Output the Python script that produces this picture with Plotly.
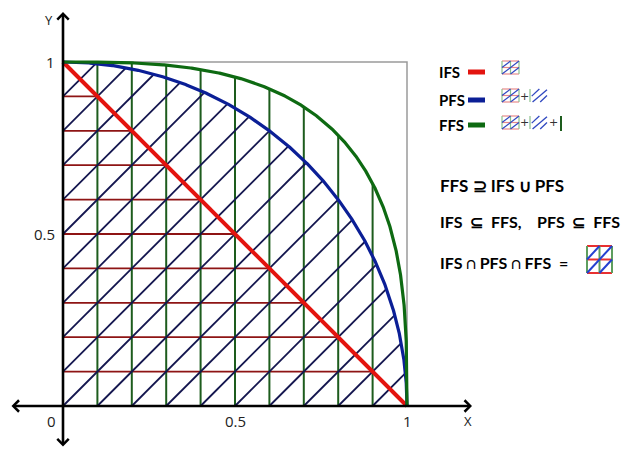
import numpy as np
import plotly.graph_objects as go

W, H = 625, 451

# ---- data ----
hatch_levels = [0.1, 0.2, 0.3, 0.4, 0.5, 0.6, 0.7, 0.8, 0.9]
diag_offsets = [-0.9, -0.8, -0.7, -0.6, -0.5, -0.4, -0.3, -0.2, -0.1, 0.0,
                0.1, 0.2, 0.3, 0.4, 0.5, 0.6, 0.7, 0.8, 0.9]
set_names = ["IFS", "PFS", "FFS"]
exponents = [1, 2, 3]
curve_colors = ["#e3140f", "#0b1f96", "#0e6a12"]
curve_widths = [4, 3.2, 3.2]
tick_vals = [0, 0.5, 1]
tick_text = ["0", "0.5", "1"]

# pixel mapping (origin and unit length in pixels)
OX, OY, U = 63, 406, 344
xr = [-OX / U, (W - OX) / U]
yr = [(OY - H) / U, OY / U]

def px(x):
    return x / W

def py(y):
    return 1 - y / H

fig = go.Figure()

# red horizontal hatching under x + y = 1
hx, hy = [], []
for y in hatch_levels:
    hx += [0, 1 - y, None]
    hy += [y, y, None]
fig.add_trace(go.Scatter(x=hx, y=hy, mode="lines", line=dict(color="#8e1414", width=1.8),
                         hoverinfo="skip", showlegend=False))

# green vertical hatching under x^3 + y^3 = 1
vx, vy = [], []
for x in hatch_levels:
    vx += [x, x, None]
    vy += [0, (1 - x ** 3) ** (1 / 3), None]
fig.add_trace(go.Scatter(x=vx, y=vy, mode="lines", line=dict(color="#1d5c1d", width=2),
                         hoverinfo="skip", showlegend=False))

# navy diagonal hatching under x^2 + y^2 = 1
dx, dy = [], []
for c in diag_offsets:
    x0, y0 = max(0, -c), max(0, c)
    x1 = (-c + np.sqrt(2 - c * c)) / 2
    dx += [x0, x1, None]
    dy += [y0, x1 + c, None]
fig.add_trace(go.Scatter(x=dx, y=dy, mode="lines", line=dict(color="#14164f", width=1.8),
                         hoverinfo="skip", showlegend=False))

# unit box
fig.add_trace(go.Scatter(x=[0, 1, 1], y=[1, 1, 0], mode="lines",
                         line=dict(color="#9a9a9a", width=1.5), hoverinfo="skip", showlegend=False))

# curves x^n + y^n = 1
t = np.linspace(0, np.pi / 2, 600)
for name, n, col, lw in zip(set_names, exponents, curve_colors, curve_widths):
    cx = np.cos(t) ** (2 / n)
    cy = np.sin(t) ** (2 / n)
    fig.add_trace(go.Scatter(x=cx, y=cy, mode="lines", line=dict(color=col, width=lw),
                             name=name, hoverinfo="skip", showlegend=False))

# axes with arrows
fig.add_annotation(x=(472 - OX) / U, y=0, ax=(10 - OX) / U, ay=0, axref="x", ayref="y",
                   xref="x", yref="y", text="", showarrow=True, arrowhead=4, startarrowhead=4,
                   arrowside="end+start", arrowwidth=2.6, arrowsize=0.85, startarrowsize=0.85,
                   arrowcolor="black")
fig.add_annotation(x=0, y=(OY - 12) / U, ax=0, ay=(OY - 448) / U, axref="x", ayref="y",
                   xref="x", yref="y", text="", showarrow=True, arrowhead=4, startarrowhead=4,
                   arrowside="end+start", arrowwidth=2.6, arrowsize=0.85, startarrowsize=0.85,
                   arrowcolor="black")

def label(x, y, text, size, family="Open Sans", color="#222", xanchor="center", xref="paper", yref="paper"):
    fig.add_annotation(x=x, y=y, xref=xref, yref=yref, text=text, showarrow=False,
                       xanchor=xanchor, yanchor="middle",
                       font=dict(family=family, size=size, color=color))

for v, s in zip(tick_vals, tick_text):
    if v == 0:
        label(px(51), py(421), s, 15)
    else:
        label(v, py(421), s, 15, xref="x")
        label(px(57), v, s, 15, xanchor="right", yref="y")
label(px(468), py(421), "X", 13)
label(px(49), py(20), "Y", 13)

# ---- legend / text on the right ----
rows_y = [72, 100, 125]
for name, col, yy in zip(set_names, curve_colors, rows_y):
    label(px(437), py(yy), "<b>%s</b>" % name, 15, family="Lato", color="black", xanchor="left")
    fig.add_shape(type="line", xref="paper", yref="paper", x0=px(468), x1=px(485),
                  y0=py(yy), y1=py(yy), line=dict(color=col, width=5))

shapes = []

def seg(x0, y0, x1, y1, color, width=1.2):
    shapes.append(dict(type="line", xref="paper", yref="paper", x0=px(x0), y0=py(y0),
                       x1=px(x1), y1=py(y1), line=dict(color=color, width=width)))

def grid_icon(x0, y0, w, h, red="#e88a8a", green="#8cc08c", blue="#3048c0", lw=1.2):
    for k in range(3):
        seg(x0, y0 + k * h / 2, x0 + w, y0 + k * h / 2, red, lw)
    for k in range(3):
        seg(x0 + k * w / 2, y0, x0 + k * w / 2, y0 + h, green, lw)
    seg(x0, y0 + h / 2, x0 + w / 2, y0, blue, lw)
    seg(x0, y0 + h, x0 + w, y0, blue, lw)
    seg(x0 + w / 2, y0 + h, x0 + w, y0 + h / 2, blue, lw)

def diag_icon(x0, y0, w, h):
    seg(x0, y0, x0, y0 + h, "#8cc08c", 1.2)
    seg(x0 + w * 0.1, y0 + h * 0.55, x0 + w * 0.55, y0, "#3048c0", 1.3)
    seg(x0 + w * 0.15, y0 + h, x0 + w, y0 + h * 0.05, "#3048c0", 1.3)
    seg(x0 + w * 0.6, y0 + h, x0 + w, y0 + h * 0.5, "#3048c0", 1.3)

def plus(x, y):
    label(px(x), py(y), "+", 11, family="DejaVu Sans", color="#333")

grid_icon(502, 61, 17, 13)
grid_icon(502, 89, 17, 13)
plus(524, 96)
diag_icon(530, 89, 17, 13)
grid_icon(502, 116, 17, 13)
plus(524, 123)
diag_icon(530, 116, 17, 13)
plus(553, 123)
seg(561, 116, 561, 131, "#1d5c1d", 2)

grid_icon(587, 246, 25, 27, red="#e83030", green="#5e9e5e", blue="#2440d0", lw=2)

for s in shapes:
    fig.add_shape(**s)

label(px(438), py(186), "<b>FFS ⊇ IFS ∪ PFS</b>", 17, family="Lato", color="black", xanchor="left")
label(px(438), py(221), "<b>IFS  ⊆  FFS,    PFS  ⊆  FFS</b>", 16, family="Lato", color="black", xanchor="left")
label(px(438), py(262), "<b>IFS ∩ PFS ∩ FFS  =</b>", 16, family="Lato", color="black", xanchor="left")

fig.update_layout(
    width=W, height=H, margin=dict(l=0, r=0, t=0, b=0),
    paper_bgcolor="white", plot_bgcolor="white",
    xaxis=dict(range=xr, visible=False, fixedrange=True),
    yaxis=dict(range=yr, visible=False, fixedrange=True),
    showlegend=False,
)

fig.write_html("out.html")
